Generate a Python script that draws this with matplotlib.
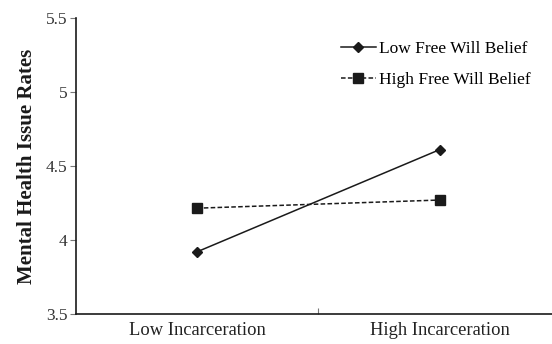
import matplotlib.pyplot as plt

plt.rcParams['font.family'] = ['Liberation Serif', 'DejaVu Serif']

categories = ['Low Incarceration', 'High Incarceration']
low_fw = [3.92, 4.61]
high_fw = [4.215, 4.27]
yticks = [3.5, 4, 4.5, 5, 5.5]
ytick_labels = ['3.5', '4', '4.5', '5', '5.5']

fig = plt.figure(figsize=(5.52, 3.44), dpi=100)
ax = fig.add_axes([0.137, 0.087, 0.879, 0.861])

xs = [0.5, 1.5]
ax.plot(xs, low_fw, color='#1a1a1a', linestyle='-', linewidth=1.1,
        marker='D', markersize=5, label='Low Free Will Belief')
ax.plot(xs, high_fw, color='#1a1a1a', linestyle=(0, (3, 1.5)), linewidth=1.1,
        marker='s', markersize=6.5, label='High Free Will Belief')

ax.set_xlim(0, 2)
ax.set_ylim(3.5, 5.5)
ax.set_yticks(yticks)
ax.set_yticklabels(ytick_labels)
ax.set_xticks([1])
ax.set_xticklabels([''])
ax.set_xticks(xs, minor=True)
ax.set_xticklabels(categories, minor=True)
ax.tick_params(axis='x', which='minor', length=0, pad=6, labelsize=13.3, colors='#222222')
ax.tick_params(axis='x', which='major', length=4, direction='in', color='#777777')
ax.tick_params(axis='y', length=4, width=0.8, color='#777777', labelsize=12.5,
               labelcolor='#333333', pad=2)

for side in ['top', 'right']:
    ax.spines[side].set_visible(False)
for side in ['left', 'bottom']:
    ax.spines[side].set_linewidth(1.2)
    ax.spines[side].set_color('#1a1a1a')

ax.set_ylabel('Mental Health Issue Rates', fontsize=15, fontweight='bold',
              color='#1a1a1a', labelpad=6)

ax.legend(loc='upper left', bbox_to_anchor=(0.515, 0.975), frameon=False,
          fontsize=12.5, handlelength=2.0, handletextpad=0.2, labelspacing=0.85)

fig.savefig('out.png', dpi=100)
